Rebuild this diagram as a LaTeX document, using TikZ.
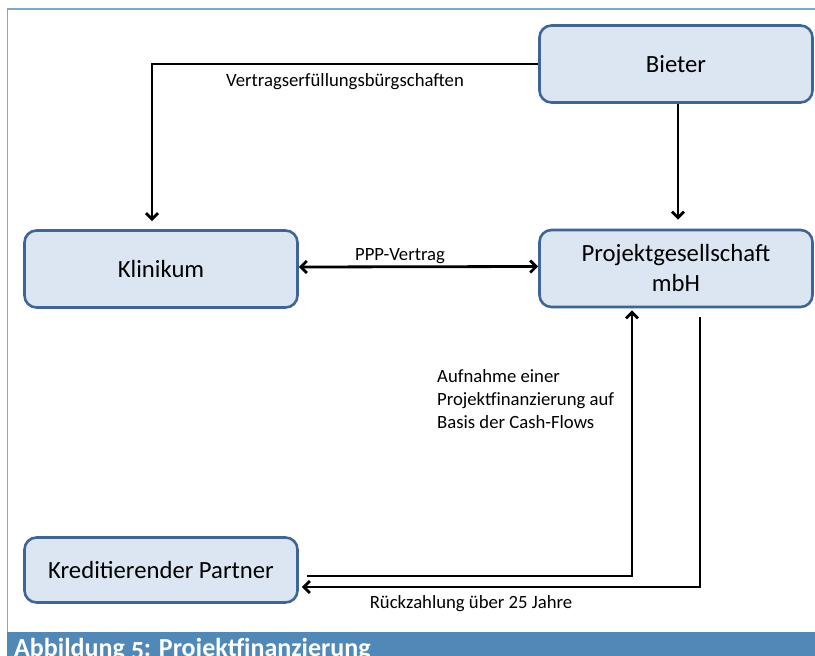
\documentclass[tikz,border=0pt]{standalone}
\usepackage{fontspec}
\setmainfont{Carlito}
\newfontfamily\capfont[Numbers=OldStyle]{Carlito}
\usetikzlibrary{arrows.meta}
\definecolor{boxfill}{HTML}{DCE6F2}
\definecolor{boxline}{HTML}{3F6497}
\definecolor{frameblue}{HTML}{7BA7D0}
\definecolor{capblue}{HTML}{5089B8}
\tikzset{
  box/.style={draw=boxline, fill=boxfill, line width=2.6pt, rounded corners=12pt,
    minimum width=273pt, minimum height=77pt, inner sep=0pt, align=center,
    font=\fontsize{24.7}{30}\selectfont},
  conn/.style={draw=black, line width=2.8pt, -{Straight Barb[length=6pt,width=12pt]}},
  lbl/.style={font=\fontsize{18.7}{23}\selectfont, inner sep=0pt}
}
\begin{document}
\begin{tikzpicture}[x=1pt,y=-1pt]
\useasboundingbox (0,0) rectangle (815,656);
\fill[white] (0,0) rectangle (815,656);
\draw[frameblue, line width=1.6pt] (7.5,640) |- (815,9);
\fill[capblue] (7,632) rectangle (815,656);
\node[anchor=base west, text=white, inner sep=0pt, font=\capfont\bfseries\fontsize{26}{30}\selectfont] (cap) at (14,656.5) {Abbildung 5: Projektfinanzierung};

\node[box] (bieter) at (676,64) {Bieter};
\node[box] (klinikum) at (161,269) {Klinikum};
\node[box] (projekt) at (676,268.5) {Projektgesellschaft\\mbH};
\node[box, minimum height=65pt] (kredit) at (161,570) {Kreditierender Partner};

\draw[conn, shorten >=8pt] (bieter.west) -| ([xshift=-9pt]klinikum.north);
\draw[conn, shorten >=9pt] ([xshift=2pt]bieter.south) -- ([xshift=2pt]projekt.north);
\draw[conn, {Straight Barb[length=6pt,width=12pt]}-{Straight Barb[length=6pt,width=12pt]}] ([yshift=2pt]klinikum.east) -- ([yshift=2pt]projekt.west);
\draw[conn, shorten >=2pt] ([xshift=8pt,yshift=-6pt]kredit.east) -| ([xshift=-44pt]projekt.south);
\draw[conn, shorten >=3pt] ([xshift=24pt,yshift=-9pt]projekt.south) |- ([yshift=-17pt]kredit.east);

\node[lbl] (l1) at (345,82) {Vertragserfüllungsbürgschaften};
\node[lbl] (l2) at (400,256) {PPP-Vertrag};
\node[lbl, anchor=north west, align=left] (l3) at (437,369) {Aufnahme einer\\Projektfinanzierung auf\\Basis der Cash-Flows};
\node[lbl] (l4) at (471,604) {Rückzahlung über 25 Jahre};
\end{tikzpicture}
\end{document}
